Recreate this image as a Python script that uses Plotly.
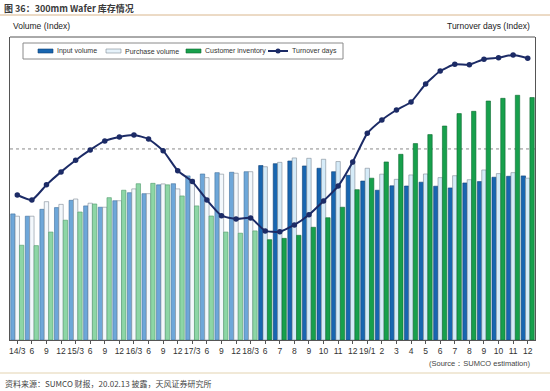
import plotly.graph_objects as go

# ---- data (index values) ----
tick_labels = ["14/3", "6", "9", "12", "15/3", "6", "9", "12", "16/3", "6", "9", "12",
               "17/3", "6", "9", "12", "18/3", "6", "7", "8", "9", "10", "11", "12",
               "19/1", "2", "3", "4", "5", "6", "7", "8", "9", "10", "11", "12"]
input_volume = [66.0, 64.8, 68.4, 69.3, 73.1, 70.2, 69.5, 72.9, 77.1, 76.6, 81.2, 81.8,
                85.9, 86.9, 87.6, 87.8, 88.1, 91.3, 92.3, 93.7, 91.1, 89.9, 88.1, 86.2,
                83.2, 78.4, 80.7, 80.6, 82.6, 80.5, 79.6, 82.2, 82.9, 85.2, 85.7, 85.9]
purchase_volume = [64.8, 64.8, 72.4, 71.0, 73.8, 71.6, 69.5, 72.9, 79.1, 76.6, 81.7, 79.1,
                   84.1, 85.0, 86.8, 87.3, 88.1, 90.7, 93.0, 95.3, 95.1, 94.6, 93.4, 92.0,
                   89.9, 86.8, 84.1, 86.4, 86.9, 85.0, 86.0, 83.9, 89.0, 87.1, 87.6, 84.7]
customer_inventory = [49.6, 49.4, 56.5, 62.7, 67.0, 71.2, 74.5, 78.4, 81.8, 82.0, 81.2, 75.4,
                      70.2, 64.9, 56.5, 55.9, 57.1, 52.5, 53.2, 54.8, 59.0, 64.0, 69.5, 78.7,
                      84.7, 93.2, 97.2, 102.8, 107.5, 112.0, 118.5, 119.7, 125.1, 126.5, 128.1, 126.9]
turnover_days = [75.9, 73.3, 81.2, 88.0, 94.1, 99.5, 104.2, 106.3, 107.3, 105.2, 99.1, 88.6,
                 82.9, 73.3, 65.1, 63.4, 63.9, 57.1, 56.7, 60.2, 65.6, 72.8, 80.6, 93.2,
                 108.2, 115.2, 120.4, 124.6, 134.0, 140.8, 144.3, 144.1, 147.0, 147.8, 149.2, 147.5]
series_names = ["Input volume", "Purchase volume", "Customer inventory", "Turnover days"]
n_actual = 17  # quarterly (lighter) periods

x = list(range(len(tick_labels)))

W, H = 550, 391
L, R, T, B = 10, 535, 37, 340


def px(xp):
    return (xp - L) / (R - L)


def py(yp):
    return (B - yp) / (B - T)


def colors(light, dark):
    return [light if i < n_actual else dark for i in x]


font = "Arial, Liberation Sans, sans-serif"
cjk = "Noto Sans CJK SC"
navy = "#1c2b66"

fig = go.Figure()
fig.add_bar(x=x, y=input_volume, name=series_names[0],
            marker=dict(color=colors("#6ea7d9", "#1866b0"),
                        line=dict(color=colors("#3f6f9c", "#0f3f75"), width=0.6)))
fig.add_bar(x=x, y=purchase_volume, name=series_names[1],
            marker=dict(color=colors("#f3f8fc", "#d5ebf8"),
                        line=dict(color="#7f8a95", width=0.6)))
fig.add_bar(x=x, y=customer_inventory, name=series_names[2],
            marker=dict(color=colors("#8dd6a6", "#17a04c"),
                        line=dict(color=colors("#4f9a6a", "#0d6a30"), width=0.6)))
fig.add_scatter(x=x, y=turnover_days, name=series_names[3], yaxis="y2",
                mode="lines+markers",
                line=dict(color=navy, width=2, shape="spline", smoothing=0.5),
                marker=dict(color=navy, size=5.5))

top = 158.6
fig.update_layout(
    width=W, height=H,
    margin=dict(l=L, r=W - R, t=T, b=H - B, autoexpand=False),
    paper_bgcolor="white", plot_bgcolor="white",
    barmode="group", bargap=0.1, bargroupgap=0,
    font=dict(family=font, size=9, color="#333333"),
    showlegend=False,
    xaxis=dict(range=[-0.5, len(x) - 0.5], tickmode="array", tickvals=x, ticktext=tick_labels,
               tickangle=0, automargin=False,
               ticks="outside", ticklen=3, tickcolor="#555555", showgrid=False,
               showline=True, linecolor="#555555", linewidth=1,
               tickfont=dict(size=8.5, color="#333333"), zeroline=False),
    yaxis=dict(range=[0, top], showticklabels=False, showgrid=False, zeroline=False,
               automargin=False,
               showline=True, linecolor="#555555", linewidth=1, ticks=""),
    yaxis2=dict(range=[0, top], overlaying="y", side="right", showticklabels=False,
                automargin=False,
                showgrid=False, zeroline=False, showline=True, linecolor="#555555",
                linewidth=1, ticks=""),
)

shapes = [
    dict(type="line", xref="paper", yref="paper", x0=0, x1=1, y0=1, y1=1,
         line=dict(color="#555555", width=1)),
    dict(type="line", xref="paper", yref="y", x0=0, x1=1, y0=100, y1=100,
         line=dict(color="#8a8a8a", width=1, dash="dot"), layer="below"),
    dict(type="line", xref="paper", yref="paper", x0=px(0), x1=px(550), y0=py(15), y1=py(15),
         line=dict(color="#d9b68c", width=1)),
    dict(type="line", xref="paper", yref="paper", x0=px(0), x1=px(550), y0=py(373), y1=py(373),
         line=dict(color="#e3d3b0", width=1)),
    # legend box
    dict(type="rect", xref="paper", yref="paper", x0=px(23), x1=px(343), y0=py(43), y1=py(59),
         line=dict(color="#8a8a8a", width=1), fillcolor="white"),
]

# legend swatches
swatches = [(38, 53, "#1866b0", "#0f3f75"), (106, 121, "#e6f2fa", "#7f8a95"),
            (186, 201, "#17a04c", "#0d6a30")]
for x0, x1, fc, lc in swatches:
    shapes.append(dict(type="rect", xref="paper", yref="paper", x0=px(x0), x1=px(x1),
                       y0=py(49), y1=py(53), fillcolor=fc, line=dict(color=lc, width=0.6)))
shapes.append(dict(type="line", xref="paper", yref="paper", x0=px(268), x1=px(288),
                   y0=py(51), y1=py(51), line=dict(color=navy, width=2)))
shapes.append(dict(type="circle", xref="paper", yref="paper", x0=px(275.5), x1=px(280.5),
                   y0=py(53.5), y1=py(48.5), fillcolor=navy, line=dict(color=navy, width=0)))
fig.update_layout(shapes=shapes)

annotations = [
    dict(text="<b>图 36：300mm Wafer 库存情况</b>", x=px(2), y=py(8), xanchor="left", yanchor="middle",
         font=dict(family=cjk, size=9, color="#3a3a3a")),
    dict(text="Volume (Index)", x=px(11), y=py(26), xanchor="left", yanchor="middle",
         font=dict(family=font, size=8.5, color="#222222")),
    dict(text="Turnover days (Index)", x=px(532), y=py(26), xanchor="right", yanchor="middle",
         font=dict(family=font, size=8.5, color="#222222")),
    dict(text="(Source：SUMCO estimation)", x=px(532), y=py(363), xanchor="right", yanchor="middle",
         font=dict(family=font, size=7.5, color="#444444")),
    dict(text="资料来源：SUMCO 财报，20.02.13 披露，天风证券研究所", x=px(3), y=py(383),
         xanchor="left", yanchor="middle", font=dict(family=cjk, size=8, color="#444444")),
]
legend_texts = [(55, series_names[0]), (123, series_names[1]), (203, series_names[2]),
                (290, series_names[3])]
for xt, t in legend_texts:
    annotations.append(dict(text=t, x=px(xt), y=py(51), xanchor="left", yanchor="middle",
                            font=dict(family=font, size=7, color="#333333")))
for a in annotations:
    a.update(xref="paper", yref="paper", showarrow=False)
fig.update_layout(annotations=annotations)

fig.write_html("out.html", config={"displayModeBar": False},
               post_script="document.body.style.margin='0';document.body.style.padding='0';"
                           "document.documentElement.style.overflow='hidden';")
